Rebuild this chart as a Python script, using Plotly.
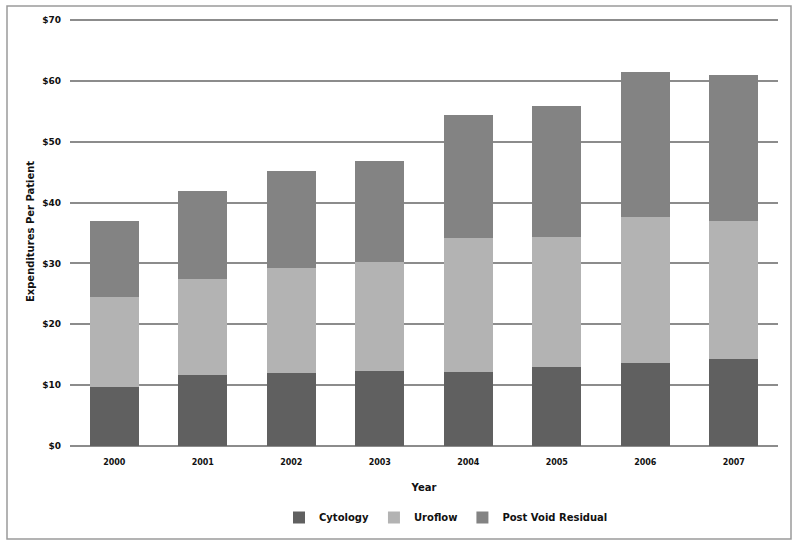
import plotly.graph_objects as go

years = ["2000", "2001", "2002", "2003", "2004", "2005", "2006", "2007"]
cytology = [9.7, 11.7, 12.0, 12.3, 12.2, 13.0, 13.6, 14.3]
uroflow = [14.8, 15.7, 17.2, 17.9, 22.0, 21.3, 24.0, 22.7]
post_void = [12.5, 14.5, 16.0, 16.6, 20.2, 21.6, 23.9, 24.0]
y_ticks = [0, 10, 20, 30, 40, 50, 60, 70]

series = [
    ("Cytology", cytology, "#606060"),
    ("Uroflow", uroflow, "#b3b3b3"),
    ("Post Void Residual", post_void, "#838383"),
]

font_family = "DejaVu Sans, Verdana, sans-serif"

fig = go.Figure()
for name, vals, color in series:
    fig.add_trace(go.Bar(x=years, y=vals, name="<b>" + name + "</b>",
                         marker=dict(color=color, line=dict(width=0))))

# plot area: x 70..778, y 17..446 (range 0..70.5)
H_plot = 547 - 17 - 101
W_plot = 800 - 70 - 22
def px_x(p):
    return (p - 70) / W_plot
def px_y(p):
    return (446 - p) / H_plot

fig.update_layout(
    barmode="stack",
    bargap=0.45,
    width=800, height=547,
    margin=dict(l=70, r=22, t=17, b=101, autoexpand=False),
    paper_bgcolor="white", plot_bgcolor="white",
    font=dict(family=font_family, color="#111111", size=9),
    showlegend=True,
    legend=dict(orientation="h", x=px_x(446), xanchor="center", y=px_y(503), yanchor="top",
                font=dict(size=10, family=font_family, color="#111"),
                bgcolor="rgba(0,0,0,0)", traceorder="normal"),
    xaxis=dict(
        title=dict(text="<b>Year</b>", font=dict(size=10, family=font_family), standoff=17),
        tickfont=dict(size=8, family=font_family), showgrid=False,
        tickprefix="<b>", ticksuffix="</b>", showline=False, ticks="",
        ticklabelstandoff=10, automargin=False,
    ),
    yaxis=dict(
        title=dict(text="<b>Expenditures Per Patient</b>", font=dict(size=10, family=font_family), standoff=5),
        range=[0, 70.5], tickvals=y_ticks,
        ticktext=["<b>$%d</b>" % v for v in y_ticks],
        tickfont=dict(size=9, family=font_family),
        showgrid=True, gridcolor="#8c8c8c", gridwidth=1.5,
        zeroline=True, zerolinecolor="#8c8c8c", zerolinewidth=1.5,
        ticks="", showline=False, ticklabelstandoff=8, automargin=False,
    ),
    shapes=[dict(type="rect", xref="paper", yref="paper",
                 x0=px_x(7), x1=px_x(791), y0=px_y(539), y1=px_y(6),
                 line=dict(color="#9a9a9a", width=1.5), fillcolor="rgba(0,0,0,0)", layer="below")],
)

fig.write_html("out.html", config={"displayModeBar": False},
               post_script="document.body.style.margin='0';document.body.style.overflow='hidden';")
